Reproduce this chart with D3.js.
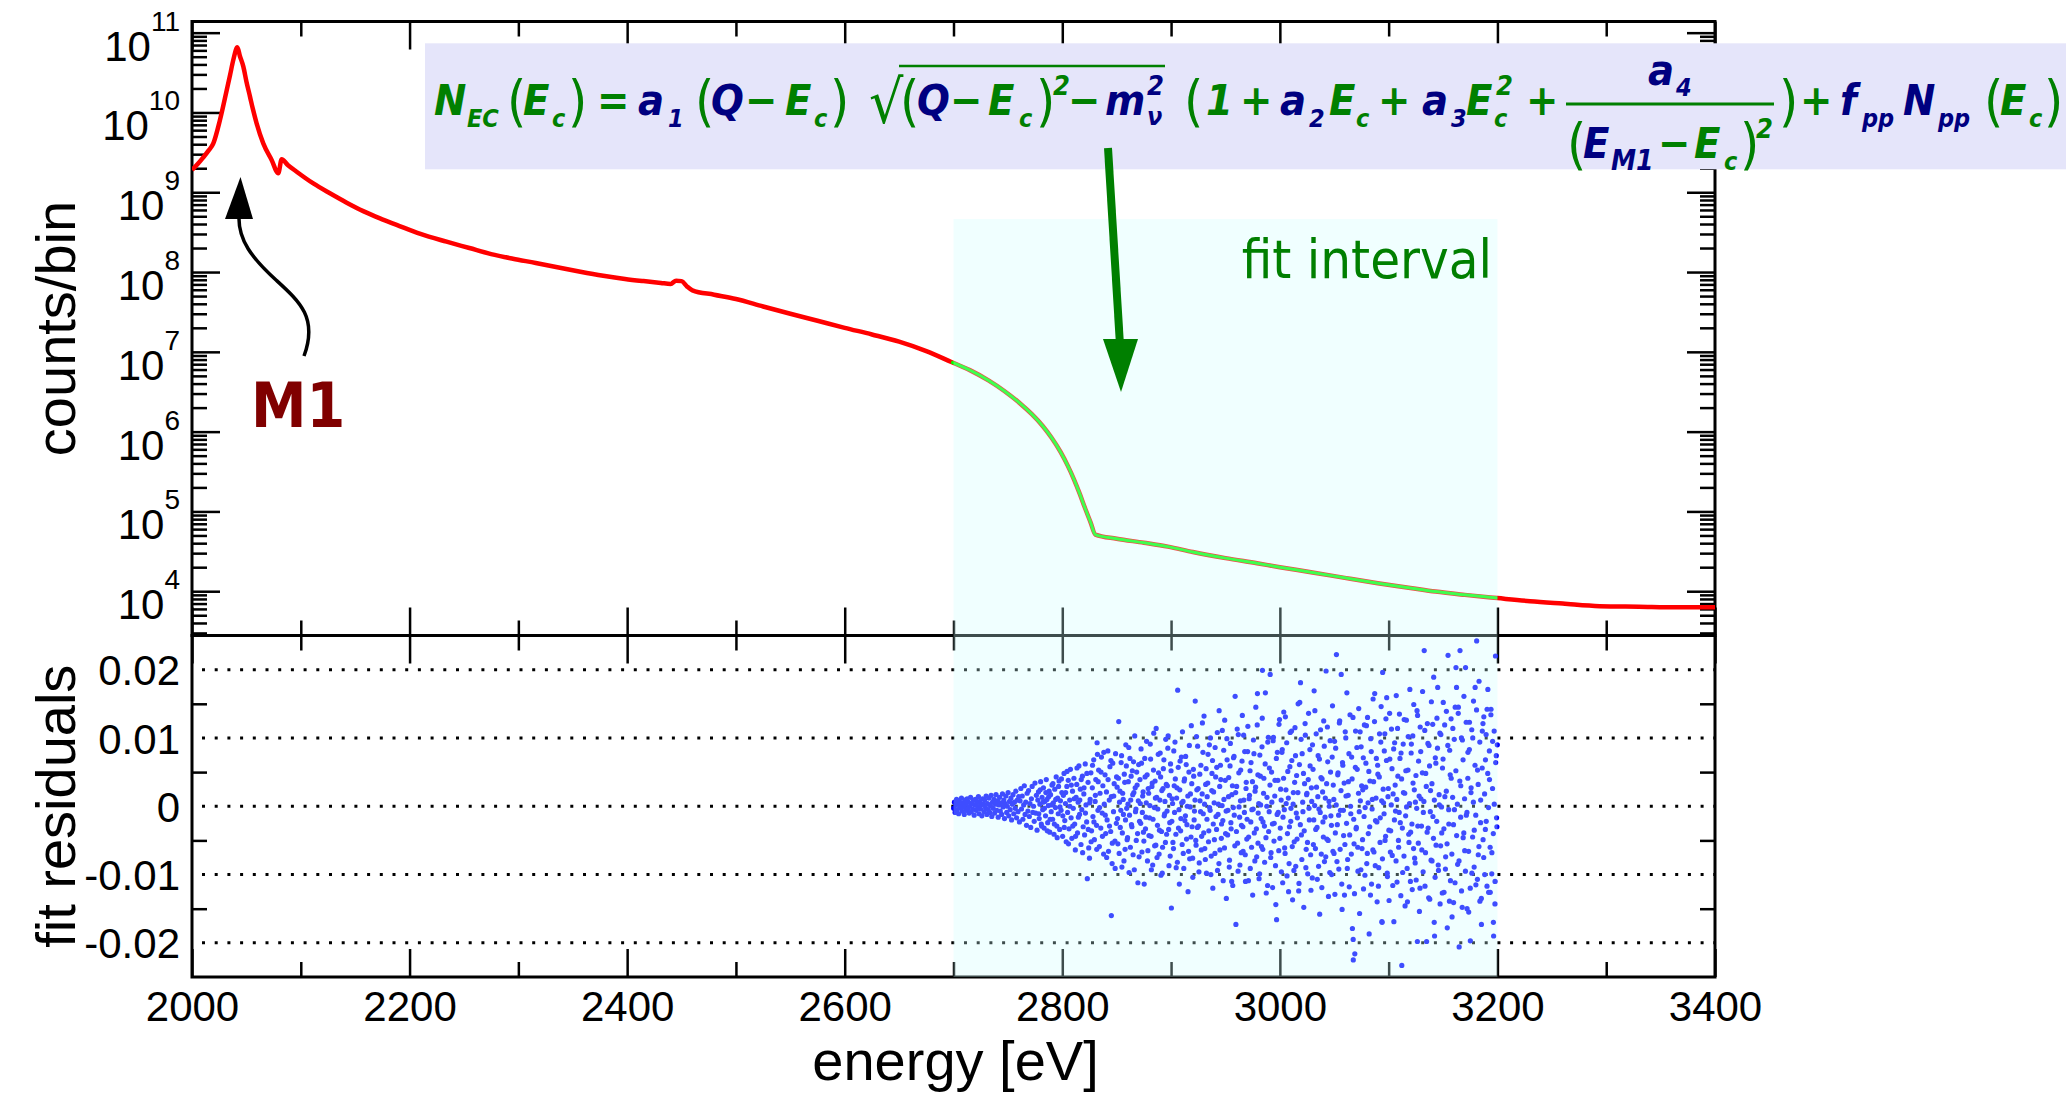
<!DOCTYPE html>
<html>
<head>
<meta charset="utf-8">
<title>EC spectrum with fit residuals</title>
<script src="https://cdn.jsdelivr.net/npm/d3@7"></script>
<style>
  html, body { margin: 0; padding: 0; background: #fff; }
  svg { display: block; }
  .axis text { font-family: "Liberation Sans", Arial, sans-serif; font-size: 42px; fill: #000; }
  .axis line { stroke: #000; stroke-width: 2.5; }
</style>
</head>
<body>
<svg id="chart" width="2066" height="1095"></svg>
<script>
// measured spectrum (energy in eV, counts per bin)
const energy = [2000, 2005, 2010, 2015, 2019.6, 2025.7, 2031.9, 2035, 2038, 2041.7, 2044, 2047.2, 2050, 2053.3, 2056,
  2059.4, 2065.5, 2073.2, 2079.3, 2082.4, 2088, 2096.2, 2111.5, 2126.8, 2142.2, 2157.4, 2172.8, 2188.1, 2210, 2234,
  2255, 2275, 2295, 2316, 2337, 2357, 2378, 2398, 2415, 2431, 2440, 2445, 2450, 2455, 2460, 2480, 2500, 2525, 2550,
  2575, 2600, 2625, 2650, 2675, 2698, 2715, 2732.5, 2747, 2761.5, 2772, 2782, 2790, 2798.4, 2805, 2810.7,
  2816, 2820.8, 2826, 2830.4, 2850, 2875, 2897, 2920, 2950, 2979, 3000, 3030, 3061, 3090, 3120, 3143, 3170, 3200,
  3230, 3260, 3294, 3330, 3365, 3400];
const counts = [1.9e9, 2.24e9, 2.7e9, 3.3e9, 4.1e9, 8.05e9, 1.9e10, 2.95e10, 4.57e10, 6.56e10, 5.1e10, 3.75e10, 2.45e10, 1.58e10, 1.1e10,
  7.3e9, 4.1e9, 2.54e9, 1.73e9, 2.59e9, 2.2e9, 1.81e9, 1.29e9, 9.7e8, 7.4e8, 5.8e8, 4.7e8, 3.9e8, 3.0e8, 2.4e8,
  2.0e8, 1.68e8, 1.47e8, 1.3e8, 1.14e8, 1.01e8, 9.0e7, 8.2e7, 7.7e7, 7.3e7, 7.1e7, 7.8e7, 7.7e7, 6.6e7, 5.9e7, 5.2e7, 4.6e7, 3.7e7, 3.0e7,
  2.45e7, 2.0e7, 1.65e7, 1.34e7, 1.02e7, 7.46e6, 5.9e6, 4.36e6, 3.21e6, 2.24e6, 1.655e6, 1.178e6, 8.45e5, 5.57e5, 3.75e5, 2.53e5,
  1.67e5, 1.11e5, 7.3e4, 5.12e4, 4.55e4, 4.05e4, 3.62e4, 3.1e4, 2.6e4, 2.24e4, 2.0e4, 1.72e4, 1.46e4, 1.26e4, 1.1e4, 9.9e3, 9.0e3, 8.2e3,
  7.5e3, 7.0e3, 6.5e3, 6.4e3, 6.3e3, 6.3e3];

// fit residuals, [energy eV, residual x 1e-3]
const residA = [[2700.2,-0.3],[2700.9,0.6],[2701.5,-0.9],[2702.1,0.2],[2702.8,1.0],[2703.4,-0.5],[2704.0,0.4],[2704.7,-1.1],
  [2705.3,0.8],[2706.0,-0.2],[2706.6,0.1],[2707.3,1.2],[2707.9,-0.7],[2708.6,0.5],[2709.2,-0.1],[2709.9,-1.2],[2710.5,0.9],
  [2711.2,0.3],[2711.8,-0.6],[2712.5,1.1],[2713.1,-0.3],[2713.8,0.6],[2714.4,-1.0],[2715.1,0.0],[2715.7,1.3],[2716.4,-0.8],
  [2717.0,0.4],[2717.7,-0.4],[2718.3,0.9],[2719.0,-1.3],[2719.6,0.2],[2720.3,1.0],[2720.9,-0.6],[2721.6,0.5],[2722.2,-0.1],
  [2722.9,1.4],[2723.5,-1.1],[2724.2,0.7],[2724.8,-0.4],[2725.5,0.2],[2726.1,-1.4],[2726.8,1.1],[2727.4,0.3],[2728.1,-0.8],
  [2728.7,0.9],[2729.4,-0.2],[2730.0,1.5],[2730.7,-1.2],[2731.3,0.4],[2732.0,-0.5],[2732.6,1.2],[2733.3,-0.9],[2733.9,0.1],
  [2734.6,1.6],[2735.2,-1.5],[2735.9,0.6],[2736.5,-0.3],[2737.2,1.0],[2737.8,-1.0],[2738.5,0.3],[2739.1,1.7],[2739.8,-0.6],
  [2740.4,0.8],[2741.1,-1.6],[2741.7,0.2],[2742.4,1.3],[2743.0,-0.7],[2743.7,0.5],[2744.3,-1.2],[2745.0,1.8],[2745.6,-0.1],
  [2746.3,0.9],[2746.9,-1.8],[2747.6,0.4],[2748.2,1.5],[2748.9,-0.9],[2749.5,0.0],[2750.2,2.0],[2750.8,-1.4],[2751.5,0.7],
  [2752.1,-0.5],[2752.8,1.2],[2753.4,-2.0],[2754.1,0.3],[2754.7,1.7],[2755.4,-1.1],[2756.0,0.6],[2756.7,-0.3],[2757.3,2.2],
  [2758.0,-1.7],[2758.6,0.9],[2759.3,-0.8],[2759.9,1.4]];
const residB = [[2760.6,-2.3],[2761.2,0.8],[2761.9,2.6],[2762.5,-0.4],[2763.2,1.5],[2763.8,-1.9],[2764.5,0.2],[2765.1,3.0],
  [2765.8,-1.2],[2766.4,0.6],[2767.1,-2.8],[2767.7,1.9],[2768.4,-0.7],[2769.0,2.3],[2769.7,-1.5],[2770.3,0.4],[2771.0,-3.1],
  [2771.6,1.1],[2772.3,2.9],[2772.9,-0.9],[2773.6,0.0],[2774.2,-2.2],[2774.9,3.4],[2775.5,-1.0],[2776.2,1.6],[2776.8,-3.5],
  [2777.5,0.9],[2778.1,2.1],[2778.8,-1.8],[2779.4,0.3],[2780.1,3.6],[2780.7,-2.6],[2781.4,1.3],[2782.0,-0.5],[2782.7,2.7],
  [2783.3,-3.2],[2784.0,0.7],[2784.6,-1.4],[2785.3,3.9],[2785.9,1.0],[2786.6,-2.4],[2787.2,0.1],[2787.9,2.2],[2788.5,-3.8],
  [2789.2,1.7],[2789.8,-0.8],[2790.5,3.1],[2791.1,-1.9],[2791.8,0.5],[2792.4,-4.1],[2793.1,2.5],[2793.7,-0.2],[2794.4,4.3],
  [2795.0,-2.9],[2795.7,1.2],[2796.3,-1.1],[2797.0,3.7],[2797.6,-3.4],[2798.3,0.8],[2798.9,-0.6],[2799.6,2.0],
  [2778.4,-1.1],[2779.7,2.4],[2781.0,-2.9],[2782.3,0.6],[2783.6,-0.3],[2784.9,2.0],[2786.2,-3.6],[2787.5,1.4],[2788.8,-1.9],
  [2790.1,0.2],[2791.4,3.3],[2792.7,-2.6],[2794.0,1.0],[2795.3,-4.6],[2796.6,2.9],[2797.9,-0.1],[2799.2,4.0]];
const residC = [[2800.3,-4.4],[2801.0,1.6],[2801.6,4.8],[2802.3,-2.1],[2802.9,0.4],[2803.6,-5.2],[2804.2,2.9],[2804.9,-0.9],
  [2805.5,3.8],[2806.2,-3.3],[2806.8,0.9],[2807.5,5.4],[2808.1,-1.7],[2808.8,-4.7],[2809.4,2.2],[2810.1,-0.3],[2810.7,4.1],
  [2811.4,-2.6],[2812.0,-6.4],[2812.7,1.3],[2813.3,3.2],[2814.0,-3.9],[2814.6,0.6],[2815.3,5.9],[2815.9,-1.2],[2816.6,2.5],
  [2817.2,-5.6],[2817.9,-0.5],[2818.5,4.4],[2819.2,-3.0],[2819.8,1.8],[2820.5,-4.2],[2821.1,6.2],[2821.8,0.2],[2822.4,-2.3],
  [2823.0,-10.6],[2823.7,3.5],[2824.3,-6.1],[2825.0,-7.6],[2825.6,1.0],[2826.3,4.9],[2826.9,-3.6],[2827.6,2.7],[2828.2,-1.5],
  [2828.9,6.8],[2829.5,-4.9],[2830.2,0.7],[2830.8,3.9],[2831.5,-2.8],[2832.0,9.3],[2832.3,7.6],[2832.8,-0.6],[2833.4,5.3],
  [2834.1,-5.9],[2834.7,1.9],[2835.4,-3.2],[2836.0,7.2],[2836.7,-1.0],[2837.3,3.0],[2838.0,-7.0],[2838.6,0.3],[2839.3,4.6],
  [2839.9,-4.0],[2840.6,2.1],[2841.2,-2.0],[2841.9,8.1],[2842.5,-6.6],[2843.2,0.9],[2843.8,5.8],[2844.5,-3.7],[2845.1,-16.0],
  [2845.1,1.4],[2845.8,-8.4],[2846.4,6.3],[2847.1,-0.8],[2847.7,3.3],[2848.4,-5.1],[2849.0,7.7],[2849.7,-2.5],
  [2800.5,-1.4],[2801.8,-3.1],[2803.1,2.0],[2804.4,5.1],[2805.7,-5.5],[2807.0,0.0],[2808.3,3.1],[2809.6,-2.9],[2810.9,1.1],
  [2812.2,-4.4],[2813.5,5.6],[2814.8,-1.6],[2816.1,0.9],[2817.4,3.9],[2818.7,-6.8],[2820.0,2.7],[2821.3,-1.0],[2822.6,4.8],
  [2823.9,-3.4],[2825.2,0.5],[2826.5,-5.2],[2827.8,6.0],[2829.1,-2.3],[2830.4,1.6],[2831.7,-6.3],[2833.0,3.6],[2834.3,-0.2],
  [2835.6,5.0],[2836.9,-4.4],[2838.2,7.9],[2839.5,-1.3],[2840.8,-7.5],[2842.1,3.9],[2843.4,-2.9],[2844.7,6.7],[2846.0,-5.4],
  [2847.3,1.5],[2848.6,-9.1],[2849.9,4.3]];
const residD = [[2850.4,2.8],[2851.1,-5.5],[2851.9,12.4],[2852.6,0.6],[2853.3,-3.1],[2854.1,6.4],[2854.8,-8.9],[2855.5,1.9],
  [2856.2,-1.2],[2857.0,4.7],[2857.7,-6.3],[2858.4,9.0],[2859.2,-0.3],
  [2860.0,-4.6],[2860.7,3.6],[2861.4,-9.7],[2862.2,7.0],[2862.9,0.9],[2863.6,-2.7],[2864.4,5.2],[2865.1,-7.1],[2865.8,2.0],
  [2866.6,10.3],[2867.3,-0.8],[2868.0,-5.0],[2868.8,3.1],[2869.5,-11.2],
  [2870.2,6.1],[2871.0,-2.2],[2871.7,0.4],[2872.4,8.4],[2873.2,-6.7],[2873.9,1.5],[2874.6,-3.8],[2875.3,-11.4],[2876.1,4.3],
  [2876.8,-1.6],[2877.5,9.5],[2878.3,-8.0],[2879.0,2.6],[2879.7,-4.3],
  [2880.5,0.1],[2881.2,6.9],[2881.9,-9.3],[2882.7,3.4],[2883.4,-1.9],[2884.1,10.7],[2884.9,-5.8],[2885.6,1.2],[2886.3,11.4],
  [2887.1,-7.5],[2887.8,-0.4],[2888.5,4.9],[2889.3,-3.5],
  [2890.0,7.8],[2890.7,-10.1],[2891.5,2.3],[2892.2,-6.0],[2892.9,5.5],[2893.7,-1.4],[2894.4,0.7],[2895.1,9.8],[2895.9,-4.1],
  [2896.6,3.0],[2897.3,10.3],[2898.1,-8.7],[2898.8,-2.4],[2899.5,6.2],
  [2900.3,-14.9],[2901.0,1.1],[2901.7,-5.3],[2902.5,8.1],[2903.2,-0.9],[2903.9,4.0],[2904.7,-9.0],[2905.4,2.7],[2906.1,17.0],
  [2906.8,-3.2],[2907.6,-11.4],[2908.3,6.6],[2909.0,-1.8],[2909.8,0.5],
  [2910.5,10.9],[2911.2,-6.9],[2912.0,3.7],[2912.7,-2.1],[2913.4,7.3],[2914.2,-4.8],[2914.9,0.0],[2915.6,-12.5],[2916.4,5.0],
  [2917.1,-7.7],[2917.8,1.8],[2918.6,11.8],[2919.3,-3.0],
  [2920.0,-10.4],[2920.8,4.4],[2921.5,-0.7],[2922.2,15.4],[2923.0,-5.7],[2923.7,2.4],[2924.4,8.8],[2925.2,-2.9],[2925.9,-8.3],
  [2926.6,0.8],[2927.4,6.0],[2928.1,-4.4],[2928.8,12.2],[2929.6,-1.1],
  [2930.3,13.2],[2931.0,-6.2],[2931.8,3.2],[2932.5,-9.8],[2933.2,1.4],[2934.0,7.6],[2934.7,-3.6],[2935.4,-0.2],[2936.2,10.0],
  [2936.9,-7.3],[2937.6,4.8],[2938.4,-12.0],[2939.1,2.1],[2939.8,-4.9],
  [2940.5,8.6],[2941.3,-1.5],[2942.0,5.7],[2942.7,-9.4],[2943.5,0.3],[2944.2,14.0],[2944.9,-6.4],[2945.7,3.9],[2946.4,-2.6],
  [2947.1,11.1],[2947.9,-10.9],[2948.6,1.0],[2949.3,12.6],[2950.1,-4.0],
  [2950.8,-13.5],[2951.5,6.8],[2952.3,-0.6],[2953.0,4.2],[2953.7,-7.9],[2954.5,9.2],[2955.2,-3.3],[2955.9,1.7],[2956.7,-11.6],
  [2957.4,7.1],[2958.1,-1.3],[2958.9,16.1],[2959.6,-17.3],
  [2960.3,2.9],[2961.1,-5.4],[2961.8,10.5],[2962.5,-0.1],[2963.3,-8.6],[2964.0,5.3],[2964.7,-2.8],[2965.5,13.3],[2966.2,-6.6],
  [2966.9,0.9],[2967.7,8.0],[2968.4,-11.0],[2969.1,3.5],[2969.9,-1.9],
  [2970.6,11.7],[2971.3,-4.5],[2972.1,1.6],[2972.8,-9.1],[2973.5,6.4],[2974.3,-0.5],[2975.0,-13.0],[2975.7,9.7],[2976.5,-3.9],
  [2977.2,2.2],[2977.9,14.5],[2978.7,-7.4],[2979.4,16.5],[2979.8,4.6],[2980.1,-1.0],
  [2980.9,-10.6],[2981.6,7.5],[2982.3,0.2],[2983.1,-5.9],[2983.8,12.9],[2984.0,19.9],[2984.5,-2.3],[2985.3,4.1],[2986.0,-8.2],
  [2986.7,16.6],[2987.5,-12.7],[2988.2,1.3],[2988.9,9.4],[2989.7,-3.7],
  [2990.4,5.6],[2991.1,19.3],[2991.9,-6.8],[2992.6,0.6],[2993.3,-11.9],[2994.1,10.1],[2994.8,-2.5],[2995.5,3.8],[2996.3,-14.4],
  [2997.0,-16.6],[2997.7,7.9],[2998.5,-0.9],[2999.2,12.0],
  [3000.0,-4.7],[3000.7,2.5],[3001.4,-9.6],[3002.2,8.3],[3002.9,-1.6],[3003.6,13.8],[3004.4,-6.1],[3005.1,13.1],[3005.8,0.4],
  [3006.6,-10.2],[3007.3,5.1],[3008.0,-12.5],[3008.8,-3.0],[3009.5,10.8],
  [3010.2,-0.3],[3011.0,6.7],[3011.7,-13.7],[3012.4,2.0],[3013.2,-5.2],[3013.9,11.5],[3014.6,-8.8],[3015.4,4.5],[3016.1,-1.7],
  [3016.8,15.0],[3017.6,-11.3],[3018.3,15.2],[3019.0,18.1],[3019.8,-4.2],
  [3020.5,7.7],[3021.2,-0.8],[3022.0,-14.8],[3022.7,3.3],[3023.4,10.4],[3024.2,-6.3],[3024.9,1.9],[3025.6,-9.9],[3026.4,13.6],
  [3027.1,-2.0],[3027.8,5.9],[3028.6,-12.3],[3029.3,0.7],
  [3030.0,9.0],[3030.8,-5.6],[3031.5,16.9],[3032.2,14.0],[3033.0,-3.4],[3033.7,2.8],[3034.4,-10.7],[3035.2,7.4],[3035.9,-0.4],
  [3036.6,-15.8],[3037.4,11.2],[3038.1,-7.0],[3038.8,4.0],[3039.6,-2.3],
  [3040.3,12.5],[3041.0,-8.1],[3041.8,1.2],[3042.5,19.8],[3043.2,-4.8],[3044.0,6.5],[3044.7,-13.2],[3045.4,0.0],[3046.2,9.6],
  [3046.9,-1.4],[3047.6,-10.0],[3048.4,14.7],[3049.1,3.1],[3049.8,-6.9],
  [3050.6,-12.9],[3051.3,8.5],[3052.0,22.2],[3052.8,-2.7],[3053.5,4.9],[3054.2,-9.2],[3055.0,12.5],[3055.7,-0.6],[3056.4,19.3],
  [3057.2,-15.1],[3057.9,6.0],[3058.6,-4.3],[3059.4,-13.0],[3060.1,10.9],
  [3060.8,1.5],[3061.6,16.6],[3062.3,-7.8],[3063.0,3.6],[3063.8,-11.8],[3064.5,13.4],[3065.2,-1.1],[3066.0,7.2],[3066.7,-17.9],
  [3067.4,-19.5],[3067.5,-22.5],[3068.2,-5.5],[3068.9,-21.6],[3069.6,11.0],
  [3070.3,-3.1],[3071.1,5.4],[3071.8,-9.5],[3072.5,14.3],[3073.3,-15.7],[3074.0,0.8],[3074.7,8.7],[3075.5,-6.2],[3076.2,2.4],
  [3076.9,-12.1],[3077.7,11.9],[3078.4,-0.2],[3079.1,6.3],[3079.9,-8.4],
  [3080.6,13.0],[3081.3,-4.0],[3082.1,-18.7],[3082.8,3.7],[3083.5,9.9],[3084.3,-11.4],[3085.0,1.0],[3085.7,15.7],[3086.5,-6.7],
  [3087.2,16.5],[3087.9,-2.1],[3088.7,7.0],[3089.4,-14.0],
  [3090.1,4.7],[3090.9,-9.0],[3091.6,10.6],[3092.3,-1.7],[3093.1,14.6],[3093.8,-16.9],[3094.0,-17.0],[3094.5,19.6],[3095.3,0.5],
  [3096.0,8.1],[3096.7,-5.0],[3097.5,12.8],[3098.2,15.9],[3098.9,-10.3],[3099.7,2.6],
  [3100.4,-13.8],[3101.1,6.9],[3101.9,-3.6],[3102.6,11.3],[3103.3,-7.2],[3104.1,1.8],[3104.8,-16.9],[3105.5,9.3],[3106.3,-0.7],
  [3107.0,16.2],[3107.7,-11.1],[3108.5,4.4],[3109.2,-6.0],[3109.9,13.5],
  [3110.7,-2.4],[3111.4,7.8],[3112.1,-23.3],[3112.9,-9.7],[3113.6,2.0],[3114.3,12.7],[3115.1,-14.6],[3115.8,5.2],[3116.5,-0.1],
  [3117.3,-14.0],[3118.0,10.2],[3118.7,-5.3],[3119.5,17.1],[3120.2,-3.8],
  [3120.9,9.1],[3121.7,-12.2],[3122.4,3.4],[3123.1,14.9],[3123.9,-7.6],[3124.6,0.6],[3125.3,-10.8],[3126.1,14.0],[3126.4,-19.8],
  [3126.8,-2.9],[3127.5,6.6],[3128.3,-15.4],[3129.0,11.6],[3129.7,1.1],
  [3130.5,-6.4],[3131.2,16.8],[3131.9,-0.9],[3132.7,22.8],[3133.4,-11.7],[3134.1,4.8],[3134.9,-19.8],[3135.6,12.1],[3136.3,-3.2],
  [3137.1,8.9],[3137.8,-13.6],[3138.5,2.3],[3139.3,15.3],[3139.9,-8.0],
  [3140.7,-1.5],[3141.4,18.9],[3141.9,-17.0],[3142.2,-19.0],[3142.9,7.1],[3143.6,-5.7],[3144.4,12.9],[3145.1,17.4],[3145.8,-9.4],
  [3146.6,0.2],[3147.3,-14.3],[3148.0,10.5],[3148.8,-3.9],[3149.5,5.6],
  [3150.2,15.2],[3150.9,-12.6],[3151.7,1.4],[3152.4,-7.4],[3153.1,13.9],[3153.9,-17.8],[3154.6,22.1],[3155.3,-2.6],[3156.1,8.2],
  [3156.8,-10.9],[3157.5,4.1],[3158.3,-16.2],[3159.0,11.4],[3159.7,-14.1],
  [3160.5,-0.5],[3161.2,14.5],[3161.9,20.3],[3162.4,17.4],[3163.4,-8.5],[3164.1,14.5],[3164.8,-20.6],[3165.6,22.8],[3166.3,3.0],
  [3167.0,-12.4],[3167.8,9.7],[3168.5,-4.6],[3169.2,16.1],[3169.9,-6.5],
  [3170.7,20.3],[3171.4,-1.3],[3172.1,-15.0],[3172.9,7.9],[3173.6,-15.5],[3174.3,12.3],[3175.1,-19.7],[3175.8,2.7],[3176.5,-9.8],
  [3177.3,10.0],[3178.0,15.4],[3178.7,-3.5],[3179.5,17.4],[3180.2,-11.5],
  [3180.9,24.2],[3181.7,5.3],[3182.4,-7.1],[3183.1,18.3],[3183.9,-13.9],[3184.6,0.9],[3185.3,-17.3],[3186.1,11.0],[3186.8,-4.9],
  [3187.5,13.1],[3188.3,-10.0],[3189.0,6.8],[3189.7,-2.2],
  [3190.5,14.2],[3191.2,17.1],[3191.9,-12.6],[3192.7,3.9],[3193.4,-12.6],[3194.1,14.2],[3194.9,-6.8],[3195.6,9.5],[3196.3,-17.0],
  [3196.5,-19.0],[3197.1,0.3],[3197.8,-11.0],[3198.2,22.0],[3198.9,7.4],[3199.5,-3.0]];
const residE = [[2850.8,-1.8],[2851.6,4.1],[2852.3,-6.9],[2853.0,2.2],[2853.8,-0.6],[2854.5,7.4],[2855.2,-3.9],[2856.0,1.0],
  [2856.7,-8.0],[2857.4,3.5],[2858.1,-2.0],[2858.9,5.9],[2859.6,-4.9],[2860.4,0.3],[2861.1,8.6],[2861.8,-1.3],[2862.6,-6.0],
  [2863.3,4.4],[2864.0,-3.0],[2864.8,1.7],[2865.5,6.5],[2866.2,-9.3],[2867.0,2.7],[2867.7,-0.4],[2868.4,5.0],[2869.2,-4.0],
  [2869.9,0.8],[2870.6,-7.4],[2871.4,3.9],[2872.1,-2.5],[2872.8,6.3],[2873.6,-0.9],[2874.3,2.1],[2875.0,-5.1],
  [2875.8,7.0],[2876.5,-3.3],[2877.2,0.5],[2878.0,4.6],[2878.7,-6.5],[2879.4,1.9],[2880.2,-1.7],[2880.9,9.1],[2881.6,-4.4],
  [2882.4,2.9],[2883.1,-8.6],[2883.8,5.3],[2884.6,-0.2],[2885.3,3.7],[2886.0,-5.7],[2886.8,1.3],[2887.5,-2.8],[2888.2,7.6],
  [2889.0,-7.0],[2889.7,0.9],[2890.4,4.3],[2891.2,-3.7],[2891.9,-9.8],[2892.6,2.6],[2893.4,6.8],[2894.1,-1.1],[2894.8,-5.3],
  [2895.6,3.2],[2896.3,-0.7],[2897.0,8.5],[2897.8,-3.4],[2898.5,1.6],[2899.2,-7.3],
  [2900.0,5.2],[2900.7,-2.2],[2901.4,0.4],[2902.2,-6.2],[2902.9,3.0],[2903.6,9.4],[2904.4,-4.1],[2905.1,1.2],[2905.8,-8.2],
  [2906.6,5.7],[2907.3,-0.5],[2908.0,2.4],[2908.8,-3.6],[2909.5,7.2],[2910.2,-5.6],[2911.0,0.7],[2911.7,-9.1],[2912.4,4.0],
  [2913.2,-1.4],[2913.9,6.1],[2914.6,-2.7],[2915.4,1.5],[2916.1,-6.6],[2916.8,8.9],[2917.6,-0.1],[2918.3,-4.5],[2919.0,3.3],
  [2919.8,-7.6],[2920.5,5.4],[2921.2,-2.0],[2922.0,0.9],[2922.7,-5.0],[2923.4,10.2],[2924.2,-3.1],
  [2924.9,2.6],[2925.6,-9.6],[2926.4,4.7],[2927.1,-0.8],[2927.8,-6.4],[2928.6,1.8],[2929.3,7.9],[2930.0,-3.9],[2930.8,0.3],
  [2931.5,-7.8],[2932.2,5.5],[2933.0,-1.9],[2933.7,3.4],[2934.4,-5.2],[2935.2,9.0],[2935.9,-0.6],[2936.6,-10.0],[2937.4,2.3],
  [2938.1,6.7],[2938.8,-2.6],[2939.6,0.5],[2940.3,-6.9],[2941.0,4.3],[2941.8,-3.4],[2942.5,10.8],[2943.2,-1.2],[2944.0,-8.4],
  [2944.7,2.9],[2945.4,6.0],[2946.2,-4.7],[2946.9,0.1],[2947.6,-2.1],[2948.4,8.2],[2949.1,-6.1],[2949.8,3.8],
  [2950.6,-0.7],[2951.3,9.9],[2952.0,-4.2],[2952.8,1.4],[2953.5,-8.9],[2954.2,5.9],[2955.0,-2.4],[2955.7,-11.0],[2956.4,3.0],
  [2957.2,-0.2],[2957.9,7.3],[2958.6,-5.8],[2959.4,2.0],[2960.1,-3.7],[2960.8,11.3],[2961.6,-9.5],[2962.3,4.9],[2963.0,-1.6],
  [2963.8,0.8],[2964.5,-6.8],[2965.2,6.6],[2966.0,-3.0],[2966.7,10.4],[2967.4,-0.9],[2968.2,-7.1],[2968.9,2.6],[2969.6,-4.8],
  [2970.4,8.0],[2971.1,-10.9],[2971.8,1.1],[2972.6,5.2],[2973.3,-2.3],[2974.0,-6.0],[2974.8,3.6],
  [2975.5,-0.4],[2976.2,7.7],[2977.0,-8.0],[2977.7,2.8],[2978.4,-3.3],[2979.2,11.9],[2979.9,-5.4],[2980.6,0.4],[2981.4,-9.9],
  [2982.1,4.4],[2982.8,-1.8],[2983.6,8.7],[2984.3,-6.3],[2985.0,1.9],[2985.8,-2.9],[2986.5,6.2],[2987.2,-4.6],[2988.0,0.0],
  [2988.7,-11.6],[2989.4,10.1],[2990.2,-0.8],[2990.9,3.1],[2991.6,-7.5],[2992.4,5.0],[2993.1,-2.6],[2993.8,9.6],[2994.6,-5.1],
  [2995.3,1.5],[2996.0,-8.7],[2996.8,7.0],[2997.5,-1.2],[2998.2,3.8],[2999.0,-6.5],[2999.7,12.7],
  [3000.4,-3.2],[3001.2,0.9],[3001.9,7.9],[3002.6,-11.2],[3003.4,4.1],[3004.1,-0.5],[3004.8,-6.9],[3005.6,2.4],[3006.3,9.3],
  [3007.0,-4.0],[3007.8,1.2],[3008.5,-8.4],[3009.2,5.8],[3010.0,-2.2],[3010.7,11.0],[3011.4,-5.9],[3012.2,0.3],[3012.9,-9.4],
  [3013.6,3.5],[3014.4,7.4],[3015.1,-1.0],[3015.8,-4.8],[3016.6,2.0],[3017.3,-12.4],[3018.0,6.1],[3018.8,-2.7],[3019.5,9.8],
  [3020.2,-7.8],[3021.0,0.6],[3021.7,4.8],[3022.4,-3.6],[3023.2,12.1],[3023.9,-9.0],[3024.6,1.7],
  [3025.4,-5.3],[3026.1,3.9],[3026.8,-0.3],[3027.6,8.3],[3028.3,-7.1],[3029.0,2.7],[3029.8,-10.5],[3030.5,5.4],[3031.2,-2.0],
  [3032.0,0.1],[3032.7,-6.2],[3033.4,10.6],[3034.2,-3.1],[3034.9,1.4],[3035.6,-8.8],[3036.4,6.9],[3037.1,-0.9],[3037.8,4.2],
  [3038.6,-11.9],[3039.3,2.1],[3040.0,-4.5],[3040.8,8.8],[3041.5,-1.6],[3042.2,-7.4],[3043.0,3.3],[3043.7,11.6],[3044.4,-5.0],
  [3045.2,0.7],[3045.9,-9.7],[3046.6,5.0],[3047.4,-2.8],[3048.1,7.2],[3048.8,-6.6],[3049.6,1.0],
  [3050.3,9.5],[3051.0,-3.9],[3051.8,0.2],[3052.5,-8.1],[3053.2,4.6],[3054.0,-1.3],[3054.7,12.2],[3055.4,-6.3],[3056.2,2.3],
  [3056.9,-11.4],[3057.6,6.4],[3058.4,-0.6],[3059.1,3.4],[3059.8,-5.6],[3060.6,10.0],[3061.3,-2.5],[3062.0,-9.1],[3062.8,1.6],
  [3063.5,7.7],[3064.2,-4.2],[3065.0,0.0],[3065.7,-7.0],[3066.4,4.0],[3067.2,13.0],[3067.9,-1.9],[3068.6,-12.8],[3069.4,5.7],
  [3070.1,-3.3],[3070.8,8.6],[3071.6,-6.0],[3072.3,1.9],[3073.0,-0.8],[3073.8,10.9],[3074.5,-9.3],
  [3075.2,3.0],[3076.0,-4.9],[3076.7,7.1],[3077.4,-1.5],[3078.2,-10.1],[3078.9,2.8],[3079.6,11.8],[3080.4,-6.9],[3081.1,0.5],
  [3081.8,5.1],[3082.6,-3.0],[3083.3,-13.0],[3084.0,8.0],[3084.8,-0.4],[3085.5,-6.4],[3086.2,3.6],[3087.0,12.4],[3087.7,-8.7],
  [3088.4,1.2],[3089.2,-2.3],[3089.9,6.0],[3090.6,-11.7],[3091.4,4.3],[3092.1,-5.3],[3092.8,9.4],[3093.6,0.8],[3094.3,-7.7],
  [3095.0,2.5],[3095.8,-1.1],[3096.5,10.6],[3097.2,-4.4],[3098.0,6.7],[3098.7,-9.8],[3099.4,1.4],
  [3100.2,-3.5],[3100.9,13.6],[3101.6,-6.7],[3102.4,0.2],[3103.1,5.5],[3103.8,-11.6],[3104.6,8.4],[3105.3,-2.0],[3106.0,3.1],
  [3106.8,-8.0],[3107.5,1.0],[3108.2,11.4],[3109.0,-5.0],[3109.7,-0.9],[3110.4,7.0],[3111.2,-13.1],[3111.9,4.0],[3112.6,-3.2],
  [3113.4,9.1],[3114.1,-7.3],[3114.8,1.9],[3115.6,-1.4],[3116.3,12.6],[3117.0,-9.1],[3117.8,5.3],[3118.5,-4.1],[3119.2,0.4],
  [3120.0,-11.0],[3120.7,7.8],[3121.4,-2.6],[3122.2,10.3],[3122.9,-6.2],[3123.6,2.4],[3124.4,-8.3],
  [3125.1,4.5],[3125.8,-0.3],[3126.6,13.3],[3127.3,-5.4],[3128.0,1.5],[3128.8,-12.0],[3129.5,8.0],[3130.2,-2.9],[3131.0,4.9],
  [3131.7,-9.6],[3132.4,0.7],[3133.2,11.1],[3133.9,-6.8],[3134.6,2.9],[3135.4,-3.8],[3136.1,9.2],[3136.8,-13.4],[3137.6,5.9],
  [3138.3,-0.8],[3139.0,-7.9],[3139.8,3.3],[3140.5,12.0],[3141.2,-4.7],[3142.0,0.9],[3142.7,-10.4],[3143.4,6.3],[3144.2,-2.2],
  [3144.9,8.5],[3145.6,-8.6],[3146.4,1.7],[3147.1,10.7],[3147.8,-5.8],[3148.6,-0.1],[3149.3,-12.7],
  [3150.0,6.9],[3150.8,-3.3],[3151.5,11.9],[3152.2,-9.2],[3153.0,2.2],[3153.7,-5.5],[3154.4,8.9],[3155.2,-0.5],[3155.9,-13.9],
  [3156.6,4.6],[3157.4,12.8],[3158.1,-7.0],[3158.8,1.3],[3159.6,-2.7],[3160.3,9.8],[3161.0,-11.2],[3161.8,5.2],[3162.5,-4.3],
  [3163.2,0.3],[3164.0,13.6],[3164.7,-8.0],[3165.4,3.7],[3166.2,-1.6],[3166.9,10.0],[3167.6,-14.8],[3168.4,6.8],[3169.1,-3.9],
  [3169.8,1.1],[3170.6,-9.5],[3171.3,12.3],[3172.0,-0.9],[3172.8,4.1],[3173.5,-6.6],[3174.2,8.3],
  [3175.0,-12.0],[3175.7,2.0],[3176.4,11.2],[3177.2,-4.5],[3177.9,0.6],[3178.6,-8.9],[3179.4,6.0],[3180.1,-1.3],[3180.8,14.1],
  [3181.6,-10.7],[3182.3,3.2],[3183.0,-5.9],[3183.8,9.4],[3184.5,-2.4],[3185.2,-13.5],[3186.0,5.6],[3186.7,12.1],[3187.4,-7.5],
  [3188.2,1.8],[3188.9,-3.4],[3189.6,10.5],[3190.4,-11.7],[3191.1,4.8],[3191.8,-0.2],[3192.6,8.1],[3193.3,-6.0],[3194.0,13.4],
  [3194.8,-9.9],[3195.5,2.6],[3196.2,-4.0],[3197.0,11.0],[3197.7,-14.3],[3198.4,6.4],[3199.2,-1.7],[3199.9,9.0]];

// axis ticks and labels
const xMajor = [2000, 2200, 2400, 2600, 2800, 3000, 3200, 3400];
const xMinor = [2100, 2300, 2500, 2700, 2900, 3100, 3300];
const yDecades = [1e4, 1e5, 1e6, 1e7, 1e8, 1e9, 1e10, 1e11];
const residTicks = [-0.02, -0.01, 0, 0.01, 0.02];
const residTickLabels = ['-0.02', '-0.01', '0', '0.01', '0.02'];
const residMinor = [-0.015, -0.005, 0.005, 0.015];
const fitRange = [2700, 3200];

const svg = d3.select('#chart');
const left = 192, right = 1715, topY = 21.5, midY = 635.5, bottomY = 977;
const x = d3.scaleLinear().domain([2000, 3400]).range([left, right]);
const yTop = d3.scaleLog().domain([Math.pow(10, 3.445), Math.pow(10, 11.14)]).range([midY, topY]);
const yRes = d3.scaleLinear().domain([-0.025, 0.025]).range([bottomY, midY]);

// minor log ticks (2..9 per decade)
const [lo, hi] = yTop.domain();
const logMinor = d3.range(3, 12).flatMap(k => d3.range(2, 10).map(m => m * Math.pow(10, k)))
  .filter(v => v > lo && v < hi);

function ticks(gen, tx, ty, values, size) {
  const g = svg.append('g').attr('class', 'axis')
    .attr('transform', `translate(${tx},${ty})`)
    .call(gen.tickValues(values).tickSize(-size).tickSizeOuter(0).tickFormat(''));
  g.select('.domain').remove();
  return g;
}

// upper panel ticks
ticks(d3.axisTop(x), 0, topY, xMajor, 28);
ticks(d3.axisTop(x), 0, topY, xMinor, 15);
ticks(d3.axisBottom(x), 0, midY, xMajor, 28);
ticks(d3.axisBottom(x), 0, midY, xMinor, 15);
ticks(d3.axisLeft(yTop), left, 0, yDecades, 28);
ticks(d3.axisLeft(yTop), left, 0, logMinor, 15);
ticks(d3.axisRight(yTop), right, 0, yDecades, 28);
ticks(d3.axisRight(yTop), right, 0, logMinor, 15);

// lower panel ticks
ticks(d3.axisTop(x), 0, midY, xMajor, 28);
ticks(d3.axisTop(x), 0, midY, xMinor, 15);
ticks(d3.axisBottom(x), 0, bottomY, xMinor, 15);
ticks(d3.axisLeft(yRes), left, 0, residMinor, 15);
ticks(d3.axisRight(yRes), right, 0, residMinor, 15);

const xLab = svg.append('g').attr('class', 'axis')
  .attr('transform', `translate(0,${bottomY})`)
  .call(d3.axisBottom(x).tickValues(xMajor).tickSize(-28).tickSizeOuter(0).tickPadding(14).tickFormat(d3.format('d')));
xLab.select('.domain').remove();

// dotted grid at the major residual ticks
svg.append('g').selectAll('line').data(residTicks).join('line')
  .attr('x1', left + 10).attr('x2', right)
  .attr('y1', d => yRes(d)).attr('y2', d => yRes(d))
  .attr('stroke', '#000').attr('stroke-width', 3).attr('stroke-dasharray', '3,9.7');

const resLab = svg.append('g').attr('class', 'axis')
  .attr('transform', `translate(${left},0)`)
  .call(d3.axisLeft(yRes).tickValues(residTicks).tickSize(0).tickPadding(12)
    .tickFormat(d => residTickLabels[residTicks.indexOf(d)]));
resLab.select('.domain').remove();
resLab.selectAll('text').attr('dy', '0.36em');

// decade labels 10^n
svg.append('g').selectAll('text').data(yDecades).join('text')
  .attr('x', 180).attr('y', d => yTop(d) + 28)
  .attr('text-anchor', 'end')
  .style('font-family', '"Liberation Sans", Arial, sans-serif').style('font-size', '42px')
  .each(function (d) {
    const t = d3.select(this);
    t.append('tspan').text('10');
    t.append('tspan').attr('dy', -30).style('font-size', '28px').text(Math.round(Math.log10(d)));
  });

// frames
[[topY, midY], [midY, bottomY]].forEach(([a, b]) => {
  svg.append('rect').attr('x', left).attr('y', a).attr('width', right - left).attr('height', b - a)
    .attr('fill', 'none').attr('stroke', '#000').attr('stroke-width', 3);
});

// data
svg.append('clipPath').attr('id', 'clipTop').append('rect')
  .attr('x', left).attr('y', topY).attr('width', right - left).attr('height', midY - topY);
svg.append('clipPath').attr('id', 'clipBot').append('rect')
  .attr('x', left).attr('y', midY).attr('width', right - left).attr('height', bottomY - midY);

const spectrum = energy.map((e, i) => [e, counts[i]]);
const line = d3.line().x(d => x(d[0])).y(d => yTop(d[1])).curve(d3.curveMonotoneX);
const plotTop = svg.append('g').attr('clip-path', 'url(#clipTop)');
plotTop.append('path').datum(spectrum).attr('d', line)
  .attr('fill', 'none').attr('stroke', '#ff0000').attr('stroke-width', 4.5).attr('stroke-linejoin', 'round');
plotTop.append('path').datum(spectrum.filter(d => d[0] >= 2698 && d[0] <= fitRange[1])).attr('d', line)
  .attr('fill', 'none').attr('stroke', '#00ff00').attr('stroke-width', 3).attr('stroke-linejoin', 'round');

const residuals = residA.concat(residB, residC, residD, residE).map(d => [d[0], d[1] / 1000]);
svg.append('g').attr('clip-path', 'url(#clipBot)')
  .selectAll('circle').data(residuals).join('circle')
  .attr('cx', d => x(d[0])).attr('cy', d => yRes(d[1])).attr('r', 2.6)
  .attr('fill', '#0000ff');

// fit interval shading (semi-transparent, over everything)
svg.append('rect')
  .attr('x', x(fitRange[0])).attr('y', 219)
  .attr('width', x(fitRange[1]) - x(fitRange[0])).attr('height', bottomY - 219)
  .attr('fill', 'rgb(204,255,255)').attr('fill-opacity', 0.3);

svg.append('text').attr('x', 1492).attr('y', 278).attr('text-anchor', 'end')
  .style('font-family', '"DejaVu Sans Condensed", "DejaVu Sans", sans-serif')
  .style('font-stretch', 'condensed').style('font-size', '54px')
  .attr('fill', '#007f00').text('fit interval');

// formula box
svg.append('rect').attr('x', 425).attr('y', 43.3).attr('width', 2066 - 425).attr('height', 126)
  .attr('fill', '#e5e5fa');

const G = '#008000', B = '#000080';
// [text, x, baseline, size, colour, kind]  kind: b = bold oblique, p = light paren
const formulaPieces = [
  ['N', 434, 115, 43, G, 'b'], ['EC', 467, 127, 25, G, 'b'], ['(', 507, 120, 55, G, 'p'], ['E', 523, 115, 43, G, 'b'],
  ['c', 552, 127, 25, G, 'b'], [')', 568, 120, 55, G, 'p'], ['=', 597, 115, 43, G, 'b'], ['a', 638, 115, 43, B, 'b'],
  ['1', 668, 127, 25, B, 'b'], ['(', 695, 120, 55, G, 'p'], ['Q', 711, 115, 43, B, 'b'], ['\u2212', 745, 115, 43, G, 'b'],
  ['E', 785, 115, 43, G, 'b'], ['c', 814, 127, 25, G, 'b'], [')', 830, 120, 55, G, 'p'], ['\u221a', 869, 123, 60, G, 'p'],
  ['(', 900, 120, 55, G, 'p'], ['Q', 917, 115, 43, B, 'b'], ['\u2212', 950, 115, 43, G, 'b'], ['E', 988, 115, 43, G, 'b'],
  ['c', 1019, 127, 25, G, 'b'], [')', 1036, 120, 55, G, 'p'], ['2', 1053, 95, 27, G, 'b'], ['\u2212', 1068, 115, 43, G, 'b'],
  ['m', 1105, 115, 43, B, 'b'], ['2', 1147, 95, 27, B, 'b'], ['\u03bd', 1147, 125, 25, B, 'b'], ['(', 1184, 120, 55, G, 'p'],
  ['1', 1206, 115, 43, G, 'b'], ['+', 1240, 115, 43, G, 'b'], ['a', 1280, 115, 43, B, 'b'], ['2', 1309, 127, 25, B, 'b'],
  ['E', 1329, 115, 43, G, 'b'], ['c', 1356, 127, 25, G, 'b'], ['+', 1378, 115, 43, G, 'b'], ['a', 1422, 115, 43, B, 'b'],
  ['3', 1451, 127, 25, B, 'b'], ['E', 1466, 115, 43, G, 'b'], ['2', 1496, 95, 27, G, 'b'], ['c', 1494, 127, 25, G, 'b'],
  ['+', 1526, 115, 43, G, 'b'],
  ['a', 1648, 85, 43, B, 'b'], ['4', 1676, 96, 25, B, 'b'],
  ['(', 1567, 163, 55, G, 'p'], ['E', 1583, 158, 43, B, 'b'], ['M1', 1611, 170, 28, B, 'b'], ['\u2212', 1658, 158, 43, G, 'b'],
  ['E', 1694, 158, 43, G, 'b'], ['c', 1724, 170, 25, G, 'b'], [')', 1740, 163, 55, G, 'p'], ['2', 1756, 138, 27, G, 'b'],
  [')', 1779, 120, 55, G, 'p'], ['+', 1800, 115, 43, G, 'b'], ['f', 1840, 115, 43, B, 'b'], ['pp', 1862, 127, 25, B, 'b'],
  ['N', 1903, 115, 43, B, 'b'], ['pp', 1938, 127, 25, B, 'b'], ['(', 1984, 120, 55, G, 'p'], ['E', 2000, 115, 43, G, 'b'],
  ['c', 2029, 127, 25, G, 'b'], [')', 2044, 120, 55, G, 'p']
];
svg.append('g').selectAll('text').data(formulaPieces).join('text')
  .attr('x', d => d[1]).attr('y', d => d[2])
  .style('font-family', '"DejaVu Sans Condensed", "DejaVu Sans", sans-serif')
  .style('font-stretch', 'condensed')
  .style('font-size', d => d[3] + 'px')
  .style('font-weight', d => d[5] === 'b' ? 'bold' : 'normal')
  .style('font-style', d => d[5] === 'b' ? 'italic' : 'normal')
  .attr('fill', d => d[4])
  .text(d => d[0]);
svg.append('line').attr('x1', 899).attr('x2', 1165).attr('y1', 66).attr('y2', 66)
  .attr('stroke', G).attr('stroke-width', 2.5);
svg.append('line').attr('x1', 1566).attr('x2', 1774).attr('y1', 104).attr('y2', 104)
  .attr('stroke', G).attr('stroke-width', 3);

// arrow from the formula to the fit curve
svg.append('line').attr('x1', 1108).attr('y1', 148).attr('x2', 1120).attr('y2', 345)
  .attr('stroke', '#007f00').attr('stroke-width', 8);
svg.append('path').attr('d', 'M1103,339 L1138,339 L1121,392 Z').attr('fill', '#007f00');

// M1 annotation
svg.append('path').attr('d', 'M304,356 C318,318 300,302 276,280 C252,258 238,240 239,216')
  .attr('fill', 'none').attr('stroke', '#000').attr('stroke-width', 3.5);
svg.append('path').attr('d', 'M225,219 L253,219 L240.5,177 Z').attr('fill', '#000');
svg.append('text').attr('x', 251).attr('y', 427)
  .style('font-family', '"DejaVu Sans Condensed", "DejaVu Sans", sans-serif')
  .style('font-stretch', 'condensed').style('font-weight', 'bold').style('font-size', '62px')
  .attr('fill', '#800000').text('M1');

// axis titles
const labelFont = '"Liberation Sans", Arial, sans-serif';
svg.append('text').attr('transform', `translate(75,${(topY + midY) / 2}) rotate(-90)`)
  .attr('text-anchor', 'middle').style('font-family', labelFont).style('font-size', '56px')
  .text('counts/bin');
svg.append('text').attr('transform', `translate(75,${(midY + bottomY) / 2}) rotate(-90)`)
  .attr('text-anchor', 'middle').style('font-family', labelFont).style('font-size', '56px')
  .text('fit residuals');
svg.append('text').attr('x', (left + right) / 2 + 2).attr('y', 1080)
  .attr('text-anchor', 'middle').style('font-family', labelFont).style('font-size', '56px')
  .text('energy [eV]');
</script>
</body>
</html>
